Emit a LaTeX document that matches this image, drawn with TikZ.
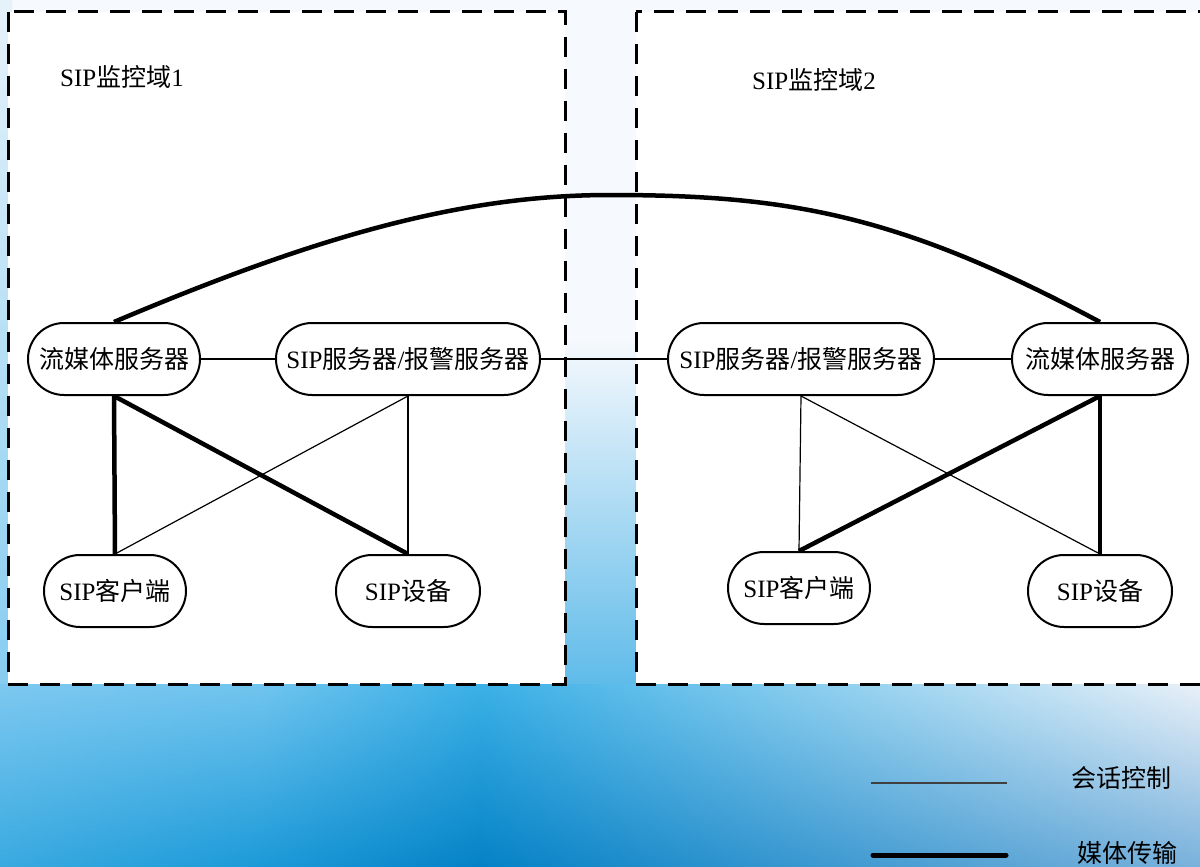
\documentclass[tikz,border=0pt]{standalone}
\usepackage{fontspec}
\setmainfont{Liberation Serif}
\newfontfamily\cjk{Noto Sans CJK SC}
\definecolor{bgA}{HTML}{F6F9FD}
\definecolor{gapB}{HTML}{58B8E8}
\definecolor{edgeA}{HTML}{E6F2FA}
\definecolor{edgeB}{HTML}{84CCF0}
\definecolor{tL}{HTML}{7CC8F0}
\definecolor{tL2}{HTML}{70C4EE}
\definecolor{tM}{HTML}{3AB0E6}
\definecolor{tMM}{HTML}{B0D6EE}
\definecolor{tR}{HTML}{E8F0F8}
\definecolor{bL}{HTML}{3AAAE0}
\definecolor{bL2}{HTML}{1C9AD8}
\definecolor{bM}{HTML}{0582C6}
\definecolor{bMM}{HTML}{5AA0D2}
\definecolor{bR}{HTML}{7AB2DC}
\tikzset{
  pill/.style={draw, line width=2pt, fill=white, rectangle, rounded corners=36pt,
    minimum height=72pt, inner sep=0pt, font=\fontsize{25pt}{29pt}\selectfont},
  dom/.style={draw, dash pattern=on 20pt off 12pt, line width=3pt, fill=white},
  ctrl/.style={line width=1.2pt},
  media/.style={line width=4.5pt},
  lbl/.style={inner sep=0pt, font=\fontsize{25pt}{29pt}\selectfont}
}
\begin{document}
\begin{tikzpicture}[x=1pt,y=-1pt]
\useasboundingbox (0,0) rectangle (1200,867);
\clip (0,0) rectangle (1200,867);
% background
\fill[bgA] (0,0) rectangle (1200,700);
\shade[top color=bgA, bottom color=gapB] (560,340) rectangle (640,700);
\shade[top color=edgeA, bottom color=edgeB] (0,0) rectangle (12,700);
\foreach \i in {0,...,60}{
  \pgfmathsetmacro\f{100*\i/60}
  \pgfmathsetmacro\yy{684+3*\i}
  \colorlet{sL}{bL!\f!tL}
  \colorlet{sLL}{bL2!\f!tL2}
  \colorlet{sM}{bM!\f!tM}
  \colorlet{sMM}{bMM!\f!tMM}
  \colorlet{sR}{bR!\f!tR}
  \shade[left color=sL, right color=sLL] (0,\yy) rectangle (261,\yy+3.6);
  \shade[left color=sLL, right color=sM] (260,\yy) rectangle (481,\yy+3.6);
  \shade[left color=sM, middle color=sMM, right color=sR] (480,\yy) rectangle (1200,\yy+3.6);
}
% domains
\path[dom] (8,12) rectangle (565,684);
\path[dom] (636,12) rectangle (1215,684);
\node[lbl, anchor=west] (d1) at (60,77) {SIP{\cjk 监控域}1};
\node[lbl, anchor=west] (d2) at (752,80) {SIP{\cjk 监控域}2};
% nodes
\node[pill, minimum width=172pt] (fmL) at (114,359) {{\cjk 流媒体服务器}};
\node[pill, minimum width=264pt] (sipL) at (408,359) {SIP{\cjk 服务器}/{\cjk 报警服务器}};
\node[pill, minimum width=142pt] (cliL) at (115,591) {SIP{\cjk 客户端}};
\node[pill, minimum width=144pt] (devL) at (408,591) {SIP{\cjk 设备}};
\node[pill, minimum width=266pt] (sipR) at (801,359) {SIP{\cjk 服务器}/{\cjk 报警服务器}};
\node[pill, minimum width=176pt] (fmR) at (1100,359) {{\cjk 流媒体服务器}};
\node[pill, minimum width=142pt] (cliR) at (799,588) {SIP{\cjk 客户端}};
\node[pill, minimum width=144pt] (devR) at (1100,591) {SIP{\cjk 设备}};
% control links
\draw[ctrl] (fmL) -- (sipL);
\draw[ctrl] (sipL) -- (sipR);
\draw[ctrl] (sipR) -- (fmR);
\draw[ctrl] (sipL.south) -- (cliL.north);
\draw[ctrl] (sipL.south) -- (devL.north);
\draw[ctrl] (sipR.south) -- (cliR.north);
\draw[ctrl] (sipR.south) -- (devR.north);
% media links
\draw[media] (fmL.south) -- (cliL.north);
\draw[media] (fmL.south) -- (devL.north);
\draw[media] (fmR.south) -- (cliR.north);
\draw[media] (fmR.south) -- (devR.north);
\coordinate (apex) at (610,195);
\draw[media] (fmL.north) .. controls (315,237) and (460,195) .. (apex)
  .. controls (790,195) and (900,215) .. (fmR.north);
% legend
\coordinate (l1a) at (871,783); \coordinate (l1b) at (1007,783);
\coordinate (l2a) at (873,855); \coordinate (l2b) at (1006,855);
\draw[line width=1.2pt, black!75] (l1a) -- (l1b);
\draw[line width=5pt, line cap=round] (l2a) -- (l2b);
\node[lbl] (t1) at (1121,778) {{\cjk 会话控制}};
\node[lbl] (t2) at (1127,853) {{\cjk 媒体传输}};
\end{tikzpicture}
\end{document}
